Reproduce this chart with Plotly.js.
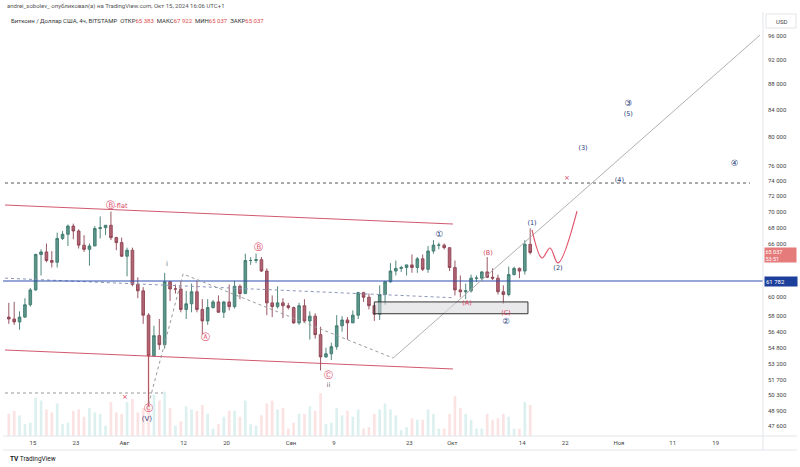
<!DOCTYPE html>
<html><head><meta charset="utf-8">
<script src="https://cdn.plot.ly/plotly-3.0.1.min.js"></script>
<style>body{margin:0;background:#fff}#chart{width:800px;height:467px}</style>
</head><body><div id="chart"></div>
<script>
// ---- Daily OHLC (BITSTAMP BTC/USD) ----
const days = ['2024-07-10','2024-07-11','2024-07-12','2024-07-13','2024-07-14','2024-07-15','2024-07-16','2024-07-17','2024-07-18','2024-07-19','2024-07-20','2024-07-21','2024-07-22','2024-07-23','2024-07-24','2024-07-25','2024-07-26','2024-07-27','2024-07-28','2024-07-29','2024-07-30','2024-07-31',
'2024-08-01','2024-08-02','2024-08-03','2024-08-04','2024-08-05','2024-08-06','2024-08-07','2024-08-08','2024-08-09','2024-08-10','2024-08-11','2024-08-12','2024-08-13','2024-08-14','2024-08-15','2024-08-16','2024-08-17','2024-08-18','2024-08-19','2024-08-20','2024-08-21','2024-08-22','2024-08-23','2024-08-24','2024-08-25','2024-08-26','2024-08-27','2024-08-28','2024-08-29','2024-08-30','2024-08-31',
'2024-09-01','2024-09-02','2024-09-03','2024-09-04','2024-09-05','2024-09-06','2024-09-07','2024-09-08','2024-09-09','2024-09-10','2024-09-11','2024-09-12','2024-09-13','2024-09-14','2024-09-15','2024-09-16','2024-09-17','2024-09-18','2024-09-19','2024-09-20','2024-09-21','2024-09-22','2024-09-23','2024-09-24','2024-09-25','2024-09-26','2024-09-27','2024-09-28','2024-09-29','2024-09-30',
'2024-10-01','2024-10-02','2024-10-03','2024-10-04','2024-10-05','2024-10-06','2024-10-07','2024-10-08','2024-10-09','2024-10-10','2024-10-11','2024-10-12','2024-10-13','2024-10-14','2024-10-15'];
const open = [57900,57700,57400,57900,59200,60800,64800,65100,64100,63900,66700,67200,68200,67600,65900,65400,65800,67900,68000,68300,66800,66200,
64600,65300,61400,60700,58100,54000,56000,55100,61700,60900,60900,58700,59300,60600,58700,57500,58900,59500,58400,59500,59000,61200,60400,64100,64100,64200,62900,59400,59000,59400,59100,
58900,57300,59100,57500,58000,56100,53900,54200,54900,57000,57600,57300,58100,60500,60000,59100,58200,60300,61700,62900,63200,63300,63600,63300,64300,63100,65200,65900,65900,65600,
63300,60800,60600,60700,62100,62100,62800,62200,62100,60600,60300,62500,63200,62900,66000];
const high = [59400,59500,58500,59900,61000,64900,65400,66100,65200,67400,67600,68400,68500,67800,67100,66100,68200,69400,68300,70000,66900,66800,
65600,65600,62200,61100,58300,57000,57700,62700,61700,61400,61800,60700,61500,61800,59800,59800,59700,60200,59600,61400,61800,61400,64900,64500,64900,64500,63200,60200,61200,59900,59400,
59000,59400,59800,58500,58300,56900,54800,55300,58100,58000,57900,58600,60600,60600,60400,59200,61300,61800,63800,64100,63500,63600,64800,64500,64800,65800,66500,66200,66100,65600,
64100,62400,61500,62500,62400,62900,64500,63200,62500,61300,63400,63400,63300,66500,67922];
const low = [57200,57100,56600,57800,59000,60700,62400,63900,63300,63300,66500,65800,66600,65500,65100,63500,65800,66700,67100,66500,65300,64500,
62300,61200,59900,57200,49300,53900,54600,54700,59600,60400,58400,57700,58400,58400,56100,57100,58800,58400,57800,58600,58800,59800,60400,63600,63800,62800,58100,57900,58800,57800,58700,
57200,57100,57400,55600,55700,52600,53800,53600,54600,56400,55600,57300,57700,59500,58700,57500,57600,59200,61600,62400,62800,62400,62700,62700,62900,62700,64900,65400,65400,62900,
60200,60000,59800,60500,61700,61800,62100,61900,60300,59300,60100,62400,62100,62500,64800];
const close = [57700,57400,57900,59200,60800,64800,65100,64100,63900,66700,67200,68200,67600,65900,65400,65800,67900,68000,68300,66800,66200,64600,
65300,61400,60700,58100,54000,56000,55100,61700,60900,60900,58700,59300,60600,58700,57500,58900,59500,58400,59500,59000,61200,60400,64100,64100,64200,62900,59400,59000,59400,59100,58900,
57300,59100,57500,58000,56100,53900,54200,54900,57000,57600,57300,58100,60500,60000,59100,58200,60300,61700,62900,63200,63300,63600,63300,64300,63100,65200,65900,65900,65600,63300,
60800,60600,60700,62100,62100,62800,62200,62100,60600,60300,62500,63200,62900,66000,65037];
const volume = [1500,1700,1400,800,900,2600,2400,1800,1600,2200,800,900,1700,1800,1300,1900,1600,1500,700,2300,1600,1500,
2300,2500,1600,1900,6500,2800,2400,3000,1900,700,1000,2000,1800,1700,2100,1500,500,800,1300,1700,1700,1300,2400,800,700,1400,2200,2400,1800,1900,500,
900,1500,1500,2000,1700,2900,800,900,1900,1400,1700,1300,1800,500,600,1500,1800,2200,1800,1400,400,600,1200,1100,1100,1800,1500,500,500,1500,
2700,1900,1500,1100,500,500,1500,1100,1200,1500,1300,500,500,2300,2100];

// ---- Axis ticks ----
const priceTicks = [96000,92000,88000,84000,80000,76000,74000,72000,70000,68000,66000,60000,58000,56400,54800,53200,51700,50300,48900,47600];
const priceTickText = ['96 000','92 000','88 000','84 000','80 000','76 000','74 000','72 000','70 000','68 000','66 000','60 000','58 000','56 400','54 800','53 200','51 700','50 300','48 900','47 600'];
const dateTicks = ['2024-07-15','2024-07-23','2024-08-01','2024-08-12','2024-08-20','2024-09-01','2024-09-09','2024-09-23','2024-10-01','2024-10-14','2024-10-22','2024-11-01','2024-11-11','2024-11-19'];
const dateTickText = ['15','23','Авг','12','20','Сен','9','23','Окт','14','22','Ноя','11','19'];

// ---- Drawings ----
const hLinePrice = 61782;
const lastClose = 65037;
const upperChannelX = ['2024-07-09 19:00','2024-10-01 03:20'], upperChannelY = [70830,68450];
const lowerChannelX = ['2024-07-09 19:00','2024-10-01 03:20'], lowerChannelY = [54570,52740];
const slopeDotX = ['2024-07-09 19:00','2024-10-01 03:20'], slopeDotY = [62100,59950];
const wavePathX = ['2024-08-05 12:00','2024-08-11 22:00','2024-09-20 00:00'], wavePathY = [49500,62570,53790];
const trendX = ['2024-09-20 00:00','2024-11-27 06:00'], trendY = [53790,96160];
const level74X = ['2024-07-09 19:00','2024-11-25 09:30'], level74Y = [73690,73690];
const level50X = ['2024-07-09 19:00','2024-08-08 04:30'], level50Y = [50510,50510];
const boxX = ['2024-09-16 12:00','2024-10-15 02:00','2024-10-15 02:00','2024-09-16 12:00','2024-09-16 12:00'];
const boxY = [58250,58250,59500,59500,58250];
const projX = ['2024-10-15 20:00','2024-10-17 16:50','2024-10-19 04:30','2024-10-20 16:10','2024-10-24 05:00'];
const projY = [67720,64390,65560,63820,70070];

const labelText = ['Ⓑ','-flat','Ⓒ','(V)','×','i','Ⓐ','Ⓑ','Ⓒ','ii','①','(A)','(B)','(C)','②','(1)','(2)','(3)','③','(5)','(4)','④','×'];
const labelX = ['2024-07-29 08:00','2024-07-31 09:00','2024-08-05 09:30','2024-08-05 05:00','2024-08-01 02:00','2024-08-08 22:00','2024-08-16 00:00','2024-08-25 21:00','2024-09-07 23:00','2024-09-07 23:00','2024-09-28 14:00','2024-10-03 18:00','2024-10-07 16:00','2024-10-11 00:00','2024-10-11 00:00','2024-10-15 20:00','2024-10-20 16:00','2024-10-25 08:00','2024-11-02 18:00','2024-11-02 18:00','2024-11-01 02:00','2024-11-22 12:00','2024-10-22 08:00'];
const labelY = [70700,70600,49080,48200,50150,63700,55760,65560,52080,51240,67110,59390,64980,58330,57390,68580,63250,78480,84940,83430,74090,76250,74360];
const RED='#d8435e', NAVY='#1f3c7a', GRAY='#666';
const labelColor = [RED,RED,RED,NAVY,RED,GRAY,RED,RED,RED,GRAY,NAVY,RED,RED,RED,NAVY,NAVY,NAVY,NAVY,NAVY,NAVY,NAVY,NAVY,RED];
const labelSize = [8.5,6.5,8.5,7,7,7,8.5,8.5,8.5,6.5,8.5,6.5,6.5,6.5,8.5,6.5,6.5,6.5,8.5,6.5,6.5,8.5,7];

// ---- Geometry of the page (pixels) ----
const PL=3, PR=763, PT=28, PB=436;
const px = x => (x-PL)/(PR-PL);
const py = y => (PB-y)/(PB-PT);

const candleX = days.map(d => d + ' 12:00');
const volColor = close.map((c,i) => c >= open[i] ? 'rgba(38,166,154,0.16)' : 'rgba(239,83,80,0.16)');

const traces = [
  {type:'bar', x:candleX, y:volume, yaxis:'y2', marker:{color:volColor, line:{width:0}}, width:0.5*86400000, hoverinfo:'skip', showlegend:false},
  {type:'scatter', mode:'lines', x:upperChannelX, y:upperChannelY, line:{color:'rgba(205,70,95,0.9)', width:1}, hoverinfo:'skip', showlegend:false},
  {type:'scatter', mode:'lines', x:lowerChannelX, y:lowerChannelY, line:{color:'rgba(205,70,95,0.9)', width:1}, hoverinfo:'skip', showlegend:false},
  {type:'scatter', mode:'lines', x:slopeDotX, y:slopeDotY, line:{color:'#8a94b8', width:1, dash:'dot'}, hoverinfo:'skip', showlegend:false},
  {type:'scatter', mode:'lines', x:[ '2024-07-09 10:05','2024-11-27 19:26'], y:[hLinePrice,hLinePrice], line:{color:'#2f4fb0', width:1}, hoverinfo:'skip', showlegend:false},
  {type:'scatter', mode:'lines', x:level74X, y:level74Y, line:{color:'#555', width:1, dash:'dot'}, hoverinfo:'skip', showlegend:false},
  {type:'scatter', mode:'lines', x:level50X, y:level50Y, line:{color:'#999', width:1, dash:'dot'}, hoverinfo:'skip', showlegend:false},
  {type:'scatter', mode:'lines', x:wavePathX, y:wavePathY, line:{color:'#9a9a9a', width:1, dash:'dot'}, hoverinfo:'skip', showlegend:false},
  {type:'scatter', mode:'lines', x:trendX, y:trendY, line:{color:'#a8a8a8', width:0.9}, hoverinfo:'skip', showlegend:false},
  {type:'scatter', mode:'lines', x:boxX, y:boxY, fill:'toself', fillcolor:'rgba(215,215,220,0.55)', line:{color:'#333', width:1}, hoverinfo:'skip', showlegend:false},
  {type:'candlestick', x:candleX, open:open, high:high, low:low, close:close,
   increasing:{line:{color:'#3f7a6f', width:0.9}, fillcolor:'#5d968a'},
   decreasing:{line:{color:'#8e4452', width:0.9}, fillcolor:'#b06474'},
   whiskerwidth:0, hoverinfo:'skip', showlegend:false},
  {type:'scatter', mode:'lines', x:projX, y:projY, line:{color:'#e0566c', width:1.2, shape:'spline', smoothing:1}, hoverinfo:'skip', showlegend:false},
  {type:'scatter', mode:'text', x:labelX, y:labelY, text:labelText, textposition:'middle center',
   textfont:{family:'DejaVu Sans', size:labelSize, color:labelColor}, cliponaxis:false, hoverinfo:'skip', showlegend:false}
];

const annotations = [
  {xref:'paper', yref:'paper', x:px(5), y:py(6), xanchor:'left', yanchor:'middle', showarrow:false,
   text:'andrei_sobolev_ опубликовал(а) на TradingView.com, Окт 15, 2024 16:06 UTC+1', font:{family:'Roboto', size:6, color:'#555'}},
  {xref:'paper', yref:'paper', x:px(9), y:py(20), xanchor:'left', yanchor:'middle', showarrow:false,
   text:'Биткоин / Доллар США, 4ч, BITSTAMP  ОТКР<span style="color:#e04a4a">65 383</span>  МАКС<span style="color:#e04a4a">67 922</span>  МИН<span style="color:#e04a4a">65 037</span>  ЗАКР<span style="color:#e04a4a">65 037</span>',
   font:{family:'Roboto', size:6, color:'#333'}},
  {xref:'paper', yref:'paper', x:px(781), y:py(21), xanchor:'center', yanchor:'middle', showarrow:false,
   text:'USD', font:{family:'Roboto', size:6, color:'#444'}},
  {xref:'paper', yref:'paper', x:px(764), y:py(255), xanchor:'left', yanchor:'middle', showarrow:false,
   text:'65 037<br>53:51', bgcolor:'#e57b7b', width:30, align:'left', borderpad:0.5,
   font:{family:'Roboto', size:5.5, color:'#fff'}},
  {xref:'paper', yref:'y', x:px(764), y:Math.log10(hLinePrice), xanchor:'left', yanchor:'middle', showarrow:false,
   text:'61 782', bgcolor:'#1d3f9c', width:30, align:'left', borderpad:1,
   font:{family:'Roboto', size:6, color:'#fff'}},
  {xref:'paper', yref:'paper', x:px(8), y:py(459), xanchor:'left', yanchor:'middle', showarrow:false,
   text:'<b>TV</b> TradingView', font:{family:'Roboto', size:6.5, color:'#131722'}}
];

const shapes = [
  {type:'line', xref:'paper', yref:'paper', x0:px(763), x1:px(763), y0:py(12), y1:py(450), line:{color:'#e3e5ea', width:1}},
  {type:'line', xref:'paper', yref:'paper', x0:px(3), x1:px(797), y0:py(436), y1:py(436), line:{color:'#e3e5ea', width:1}},
  {type:'line', xref:'paper', yref:'paper', x0:px(3), x1:px(797), y0:py(450), y1:py(450), line:{color:'#e3e5ea', width:1}},
  {type:'rect', xref:'paper', yref:'paper', x0:px(766), x1:px(796), y0:py(14), y1:py(28), line:{color:'#e3e5ea', width:1}}
];

const layout = {
  width:800, height:467,
  margin:{l:PL, r:800-PR, t:PT, b:467-PB, pad:0},
  paper_bgcolor:'#fff', plot_bgcolor:'#fff',
  showlegend:false, hovermode:false, dragmode:false,
  font:{family:'Roboto', color:'#444'},
  xaxis:{type:'date', range:['2024-07-09 10:05','2024-11-27 19:26'], tickvals:dateTicks, ticktext:dateTickText,
         showgrid:false, zeroline:false, showline:false, ticks:'', tickfont:{family:'Roboto', size:6, color:'#444'},
         rangeslider:{visible:false}, fixedrange:true, ticklabelstandoff:2},
  yaxis:{type:'log', side:'right', range:[Math.log10(46750), Math.log10(97390)], tickvals:priceTicks, ticktext:priceTickText,
         showgrid:false, zeroline:false, showline:false, ticks:'', tickfont:{family:'Roboto', size:6, color:'#444'},
         fixedrange:true, ticklabelstandoff:4},
  yaxis2:{overlaying:'y', range:[0, 27600], visible:false, fixedrange:true},
  annotations:annotations, shapes:shapes
};

Plotly.newPlot('chart', traces, layout, {displayModeBar:false, staticPlot:true});
</script></body></html>
